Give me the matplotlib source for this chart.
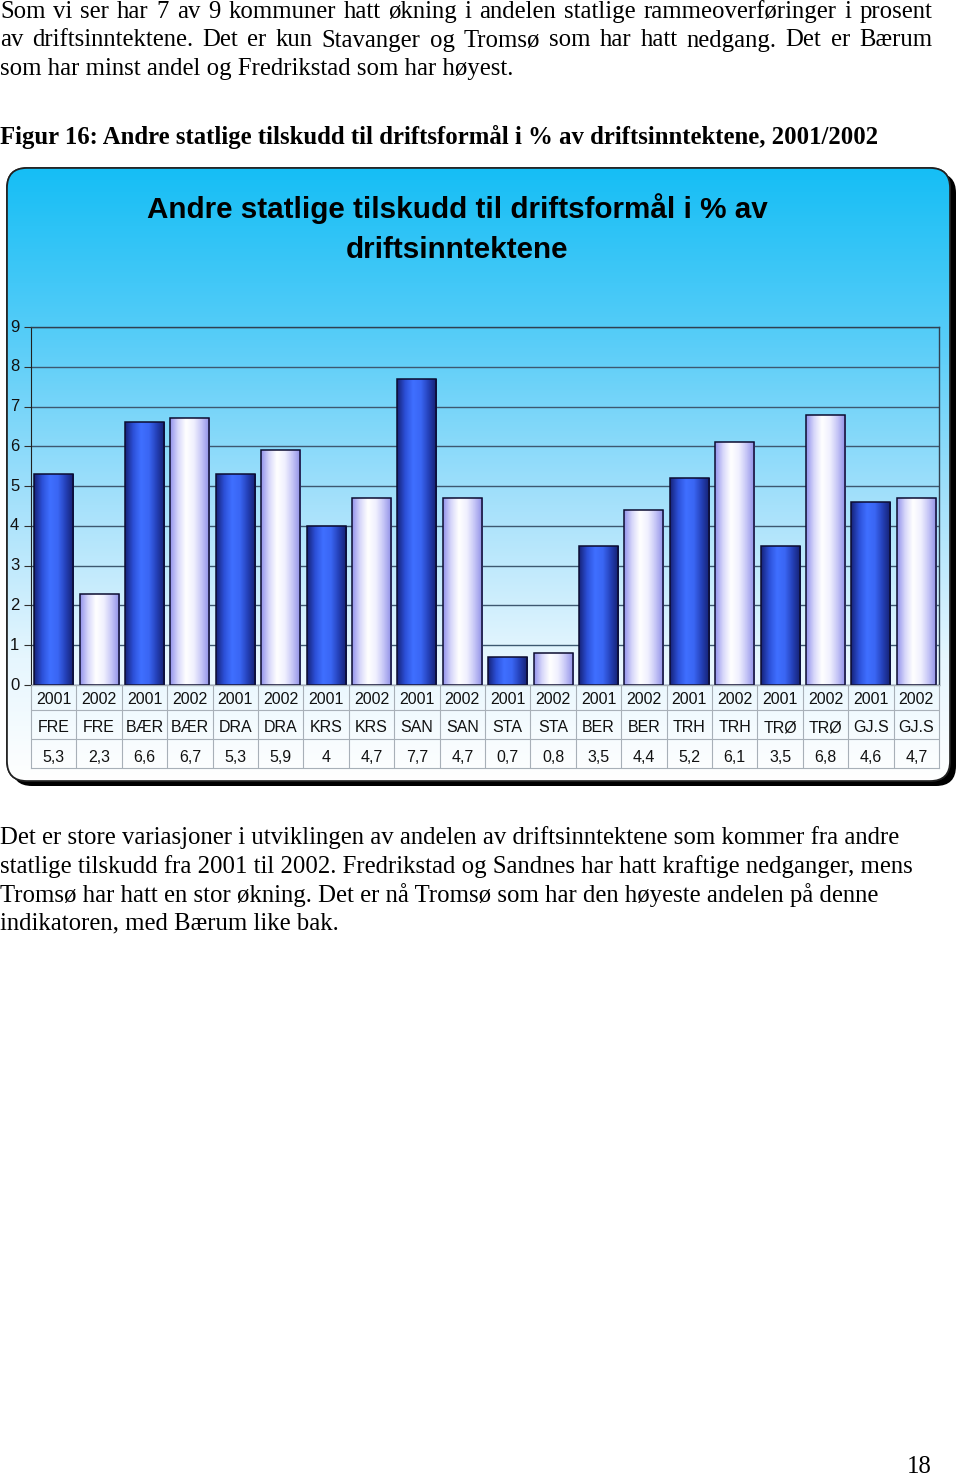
import numpy as np
import matplotlib.pyplot as plt
from matplotlib.patches import FancyBboxPatch
from matplotlib.colors import LinearSegmentedColormap

# data
aar = ['2001', '2002'] * 10
kommuner = ['FRE', 'FRE', 'BÆR', 'BÆR', 'DRA', 'DRA', 'KRS', 'KRS', 'SAN', 'SAN',
            'STA', 'STA', 'BER', 'BER', 'TRH', 'TRH', 'TRØ', 'TRØ', 'GJ.S', 'GJ.S']
verdier = [5.3, 2.3, 6.6, 6.7, 5.3, 5.9, 4, 4.7, 7.7, 4.7,
           0.7, 0.8, 3.5, 4.4, 5.2, 6.1, 3.5, 6.8, 4.6, 4.7]
yticks = list(range(10))

tekst1 = ["Som vi ser har 7 av 9 kommuner hatt økning i andelen statlige rammeoverføringer i prosent",
          "av driftsinntektene. Det er kun Stavanger og Tromsø som har hatt nedgang. Det er Bærum",
          "som har minst andel og Fredrikstad som har høyest."]
figurtekst = "Figur 16: Andre statlige tilskudd til driftsformål i % av driftsinntektene, 2001/2002"
tittel = "Andre statlige tilskudd til driftsformål i % av\ndriftsinntektene"
tekst2 = ["Det er store variasjoner i utviklingen av andelen av driftsinntektene som kommer fra andre",
          "statlige tilskudd fra 2001 til 2002. Fredrikstad og Sandnes har hatt kraftige nedganger, mens",
          "Tromsø har hatt en stor økning. Det er nå Tromsø som har den høyeste andelen på denne",
          "indikatoren, med Bærum like bak."]

W, H = 960, 1477
fig = plt.figure(figsize=(W / 100, H / 100), dpi=100)

# page background axes in pixel coords
bg = fig.add_axes([0, 0, 1, 1])
bg.set_xlim(0, W)
bg.set_ylim(H, 0)
bg.axis('off')

serif = 'Liberation Serif'
sans = 'Liberation Sans'
fs = 17.8

fig_renderer = fig.canvas.get_renderer()


def justify(line, y, x0, x1, size):
    words = line.split(' ')
    ts = [bg.text(0, y, w, fontsize=size, family=serif, va='center') for w in words]
    widths = [t.get_window_extent(renderer=fig_renderer).width for t in ts]
    gap = (x1 - x0 - sum(widths)) / (len(words) - 1)
    x = x0
    for t, wd in zip(ts, widths):
        t.set_x(x)
        x += wd + gap


for i, l in enumerate(tekst1):
    y = 12 + i * 28.5
    if i < len(tekst1) - 1:
        justify(l, y, 0, 932, fs)
    else:
        bg.text(0, y, l, fontsize=fs, family=serif, va='center')

bg.text(0, 137, figurtekst, fontsize=fs, family=serif, weight='bold', va='center')

for i, l in enumerate(tekst2):
    bg.text(0, 838 + i * 28.5, l, fontsize=fs, family=serif, va='center')

bg.text(932, 1467, '18', fontsize=fs, family=serif, va='center', ha='right')

# chart box with shadow and gradient
skygge = FancyBboxPatch((12, 173), 944, 613, boxstyle='round,pad=0,rounding_size=20',
                        fc='black', ec='none', zorder=1)
bg.add_patch(skygge)
boks = FancyBboxPatch((7, 168), 943, 613, boxstyle='round,pad=0,rounding_size=20',
                      fc='white', ec='#202020', lw=1.2, zorder=2)
bg.add_patch(boks)
bgcm = LinearSegmentedColormap.from_list('bg', [(0, '#16bef5'), (0.28, '#58cdf8'), (0.55, '#a6e1fb'),
                                                (0.8, '#e6f6fe'), (1, '#ffffff')])
grad = np.linspace(0, 1, 256).reshape(-1, 1)
im = bg.imshow(grad, extent=[7, 950, 781, 168], aspect='auto', cmap=bgcm, zorder=3)
im.set_clip_path(boks)
rand = FancyBboxPatch((7, 168), 943, 613, boxstyle='round,pad=0,rounding_size=20',
                      fc='none', ec='#202020', lw=1.2, zorder=4)
bg.add_patch(rand)
bg.set_xlim(0, W)
bg.set_ylim(H, 0)

bg.text(457, 229, tittel, fontsize=21.3, family=sans, weight='bold', ha='center', va='center',
        linespacing=1.55, zorder=5)

# plot area
ax = fig.add_axes([31 / W, 1 - 685 / H, 908 / W, 358 / H])
ax.patch.set_visible(False)
x = np.arange(len(verdier))
bars = ax.bar(x, verdier, width=0.86, color='none', edgecolor='#0c0c30', linewidth=1.1, zorder=3)

cm01 = LinearSegmentedColormap.from_list('b01', ['#16237a', '#2c50d8', '#3f6fff', '#3a66f4', '#2440b8', '#141f70'])
cm02 = LinearSegmentedColormap.from_list('b02', ['#9494ec', '#d8d8fa', '#ffffff', '#f0f0fe', '#c4c4f6', '#8e8ee6'])
hgrad = np.linspace(0, 1, 64).reshape(1, -1)
for i, b in enumerate(bars):
    cm = cm01 if aar[i] == '2001' else cm02
    bi = ax.imshow(hgrad, extent=[b.get_x(), b.get_x() + b.get_width(), 0, b.get_height()],
                   aspect='auto', cmap=cm, zorder=2)
    bi.set_clip_path(b)

ax.set_xlim(-0.5, len(verdier) - 0.5)
ax.set_ylim(0, 9)
ax.set_yticks(yticks)
ax.set_yticklabels([])
ax.set_xticks([])
ax.yaxis.grid(True, color='#3d5870', lw=1)
ax.set_axisbelow(True)
ax.tick_params(axis='y', length=5, width=0.8, color='#303030')
# y labels as plain text left of the axis
for t in yticks:
    ax.text(-0.018, t, str(t), transform=ax.get_yaxis_transform(), ha='center', va='center',
            fontsize=12, family=sans, color='#111111', clip_on=False)
for s in ['top', 'right']:
    ax.spines[s].set_color('#304050')
    ax.spines[s].set_linewidth(1)
ax.spines['left'].set_color('#202020')
ax.spines['bottom'].set_color('#202020')

# data table (y in page pixels)
tab = fig.add_axes([31 / W, 1 - 768 / H, 908 / W, 83 / H])
tab.patch.set_visible(False)
tab.set_xlim(-0.5, len(verdier) - 0.5)
tab.set_ylim(768, 685)
tab.set_xticks([])
tab.set_yticks([])
for s in tab.spines.values():
    s.set_color('#a8b0b8')
    s.set_linewidth(0.8)
for r in [710, 739]:
    tab.axhline(r, color='#a8b0b8', lw=0.8)
for i in range(1, len(verdier)):
    tab.axvline(i - 0.5, color='#a8b0b8', lw=0.8)
for i in range(len(verdier)):
    tab.text(x[i], 699, aar[i], ha='center', va='center', fontsize=11.5, family=sans, color='#111111')
    tab.text(x[i], 728, kommuner[i], ha='center', va='center', fontsize=11.5, family=sans, color='#111111')
    tab.text(x[i], 758, f"{verdier[i]:g}".replace('.', ','), ha='center', va='center',
             fontsize=11.5, family=sans, color='#111111')

fig.savefig('out.png', dpi=100)
